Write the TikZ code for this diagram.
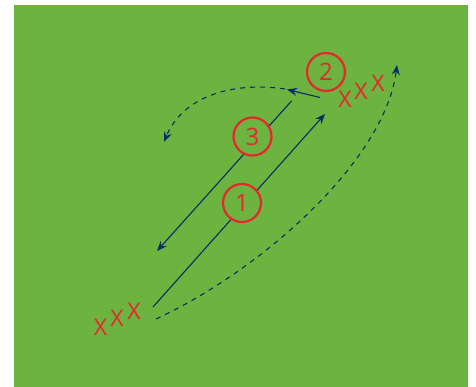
\documentclass[tikz,border=0pt]{standalone}
\usepackage{fontspec}
\setmainfont{Open Sans}
\usetikzlibrary{arrows.meta}
\definecolor{field}{HTML}{6CB33F}
\definecolor{cred}{HTML}{E8262D}
\definecolor{navy}{HTML}{0B2D66}
\tikzset{
  numc/.style={circle, draw=cred, line width=2.2pt, minimum size=38pt, inner sep=0pt, text=cred, font=\fontsize{24}{24}\selectfont},
  xmark/.style={text=cred, inner sep=0pt, font=\fontsize{23}{23}\selectfont},
  run/.style={draw=navy, line width=1.1pt, -{Stealth[length=10pt,width=8pt]}},
  dashrun/.style={draw=navy, line width=1.1pt, dash pattern=on 5pt off 5pt, -{Stealth[length=10pt,width=8pt]}}
}
\begin{document}
\begin{tikzpicture}[x=1pt,y=-1pt]
\useasboundingbox (0,0) rectangle (476,387);
\fill[field] (14,5) rectangle (468,387);
% player marks
\node[xmark] (xa1) at (100.5,327) {X};
\node[xmark] (xa2) at (117,318.5) {X};
\node[xmark] (xa3) at (134,311) {X};
\node[xmark] (xb1) at (345,99) {X};
\node[xmark] (xb2) at (361,91.5) {X};
\node[xmark] (xb3) at (378,83) {X};
% coordinates
\coordinate (r1s) at (153,307);
\coordinate (r1e) at (325,114);
\coordinate (r3s) at (291.5,101);
\coordinate (r3e) at (157,251);
\coordinate (r2s) at (320,97.5);
\coordinate (r2e) at (287,89.5);
\coordinate (d1s) at (285,89);
\coordinate (d1e) at (164,142);
\coordinate (d2s) at (156,319);
\coordinate (d2e) at (397,65);
% runs
\draw[run] (r1s) -- (r1e);
\draw[run] (r3s) -- (r3e);
\draw[run] (r2s) -- (r2e);
\draw[dashrun] (d1s) .. controls (230,81) and (182,98) .. (d1e);
\draw[dashrun] (d2s) .. controls (262,270) and (385,160) .. (d2e);
% numbers
\node[numc, fill=field] (n1) at (242,203) {1};
\node[numc, fill=field] (n3) at (252.5,136.5) {3};
\node[numc] (n2) at (326,72) {2};
\end{tikzpicture}
\end{document}
